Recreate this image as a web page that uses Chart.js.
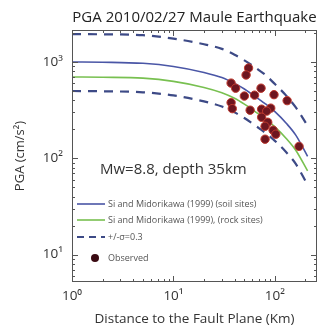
<!DOCTYPE html>
<html>
<head>
<meta charset="utf-8">
<script src="https://cdn.jsdelivr.net/npm/chart.js@4"></script>
<style>
  body { margin: 0; background: #fff; }
  #wrap { width: 325px; height: 333px; }
</style>
</head>
<body>
<div id="wrap"><canvas id="Graf"></canvas></div>
<script>
// model curves
var distance = [1, 2, 5, 10, 20, 30, 40, 50, 60, 70, 80, 100, 130, 160, 210];
var soilPGA  = [1000, 995, 970, 900, 780, 690, 600, 525, 460, 410, 370, 305, 230, 175, 105];
var rockPGA  = [700, 695, 680, 630, 545, 480, 420, 365, 320, 285, 258, 212, 160, 122, 74];
var upperPGA = [1950, 1940, 1900, 1750, 1530, 1370, 1190, 1040, 920, 820, 740, 590, 445, 340, 218];
var lowerPGA = [500, 497, 485, 450, 390, 345, 300, 262, 230, 205, 185, 152, 115, 88, 53];

// observed stations
var obsDist = [55, 52, 37, 41, 73, 98, 132, 50, 63, 37, 38, 57, 74, 91, 83, 74, 85, 80, 96, 102, 80, 173];
var obsPGA  = [866, 733, 604, 535, 535, 458, 397, 443, 453, 379, 328, 316, 324, 332, 309, 267, 237, 215, 196, 178, 158, 133];

var titel = "PGA 2010/02/27 Maule Earthquake";
var note = "Mw=8.8, depth 35km";
var sup = ["\u2070", "\u00b9", "\u00b2", "\u00b3"];
var fontName = "'Open Sans', 'Noto Sans', sans-serif";

function xy(xs, ys) {
    return xs.map(function (v, i) { return { x: v, y: ys[i] }; });
}

function isPow(v) {
    var l = Math.log10(v);
    return Math.abs(l - Math.round(l)) < 1e-9;
}

function isNice(v) {
    var e = Math.floor(Math.log10(v) + 1e-9);
    var m = v / Math.pow(10, e);
    return Math.abs(m - Math.round(m)) < 1e-6;
}

function powLabel(v) {
    if (!isPow(v)) return "";
    return "10" + sup[Math.round(Math.log10(v))];
}

function linje(label, data, color, dash, order) {
    return {
        type: "line",
        label: label,
        data: data,
        borderColor: color,
        backgroundColor: color,
        borderWidth: dash ? 2.2 : 1.6,
        borderDash: dash || [],
        pointRadius: 0,
        fill: false,
        cubicInterpolationMode: "monotone",
        order: order
    };
}

// frame, inward ticks, title, note and legend
var pynt = {
    id: "pynt",
    afterDraw: function (chart) {
        var ctx = chart.ctx;
        var a = chart.chartArea;
        var sx = chart.scales.x, sy = chart.scales.y;
        ctx.save();
        ctx.strokeStyle = "#555";
        ctx.lineWidth = 1;
        ctx.strokeRect(a.left + 0.5, a.top + 0.5, a.right - a.left - 1, a.bottom - a.top - 1);

        ctx.beginPath();
        sx.ticks.forEach(function (t) {
            if (!isNice(t.value)) return;
            var px = Math.round(sx.getPixelForValue(t.value)) + 0.5;
            var len = isPow(t.value) ? 6 : 3;
            ctx.moveTo(px, a.bottom); ctx.lineTo(px, a.bottom - len);
            ctx.moveTo(px, a.top); ctx.lineTo(px, a.top + len);
        });
        sy.ticks.forEach(function (t) {
            if (!isNice(t.value)) return;
            var py = Math.round(sy.getPixelForValue(t.value)) + 0.5;
            var len = isPow(t.value) ? 6 : 3;
            ctx.moveTo(a.left, py); ctx.lineTo(a.left + len, py);
            ctx.moveTo(a.right, py); ctx.lineTo(a.right - len, py);
        });
        ctx.stroke();

        ctx.fillStyle = "#222";
        ctx.font = "15px " + fontName;
        ctx.textAlign = "center";
        ctx.textBaseline = "middle";
        ctx.fillText(titel, (a.left + a.right) / 2, 18);

        ctx.fillStyle = "#333";
        ctx.font = "15px " + fontName;
        ctx.textAlign = "left";
        ctx.fillText(note, a.left + 28, a.top + 140);

        // legend
        var rows = [a.top + 174, a.top + 190, a.top + 207, a.top + 228];
        var ds = chart.data.datasets.filter(function (d) { return d.legend; });
        ds.sort(function (p, q) { return p.legend - q.legend; });
        ctx.font = "9px " + fontName;
        ds.forEach(function (d, i) {
            var yy = rows[i];
            if (d.type === "line") {
                ctx.beginPath();
                ctx.strokeStyle = d.borderColor;
                ctx.lineWidth = d.borderWidth;
                ctx.setLineDash(d.borderDash.length ? [7, 5] : []);
                ctx.moveTo(a.left + 5, yy);
                ctx.lineTo(a.left + 33, yy);
                ctx.stroke();
                ctx.setLineDash([]);
            } else {
                ctx.beginPath();
                ctx.fillStyle = "#3a0a12";
                ctx.arc(a.left + 23, yy, 4, 0, Math.PI * 2);
                ctx.fill();
            }
            ctx.fillStyle = "#555";
            ctx.fillText(d.label, a.left + 36, yy);
        });
        ctx.restore();
    }
};

var soil = linje("Si and Midorikawa (1999) (soil sites)", xy(distance, soilPGA), "#4a56a6", null, 2);
soil.legend = 1;
var rock = linje("Si and Midorikawa (1999), (rock sites)", xy(distance, rockPGA), "#78c050", null, 3);
rock.legend = 2;
var upper = linje("+/-\u03c3=0.3", xy(distance, upperPGA), "#3d4a86", [9, 7], 4);
upper.legend = 3;
var lower = linje("+/-\u03c3=0.3 (lower)", xy(distance, lowerPGA), "#3d4a86", [9, 7], 4);

var graf = new Chart("Graf", {
    type: "scatter",
    data: {
        datasets: [{
            label: "Observed",
            legend: 4,
            data: xy(obsDist, obsPGA),
            backgroundColor: "#6e1620",
            borderColor: "#c0392e",
            borderWidth: 1,
            pointRadius: 4.2,
            order: 0
        }, soil, rock, upper, lower]
    },
    options: {
        responsive: true,
        maintainAspectRatio: false,
        animation: false,
        layout: { padding: { left: 0, right: 8, top: 30, bottom: 0 } },
        plugins: {
            legend: { display: false },
            tooltip: { enabled: false },
            title: { display: false }
        },
        scales: {
            x: {
                type: "logarithmic",
                min: 1,
                max: 260,
                grid: { display: false, drawTicks: false },
                border: { display: false },
                ticks: {
                    autoSkip: false,
                    maxRotation: 0,
                    padding: 6,
                    color: "#333",
                    font: { family: fontName, size: 13.5 },
                    callback: function (v) { return powLabel(v); }
                },
                title: {
                    display: true,
                    text: "Distance to the Fault Plane (Km)",
                    color: "#333",
                    font: { family: fontName, size: 13.5 },
                    padding: { top: 0, bottom: 6 }
                },
                afterFit: function (s) { s.height = 51; }
            },
            y: {
                type: "logarithmic",
                min: 5.2,
                max: 2150,
                grid: { display: false, drawTicks: false },
                border: { display: false },
                ticks: {
                    autoSkip: false,
                    padding: 9,
                    color: "#333",
                    font: { family: fontName, size: 13.5 },
                    callback: function (v) { return powLabel(v); }
                },
                title: {
                    display: true,
                    text: "PGA (cm/s\u00b2)",
                    color: "#333",
                    font: { family: fontName, size: 13 },
                    padding: { top: 12, bottom: 0 }
                },
                afterFit: function (s) { s.width = 72; }
            }
        }
    },
    plugins: [pynt]
});
</script>
</body>
</html>
